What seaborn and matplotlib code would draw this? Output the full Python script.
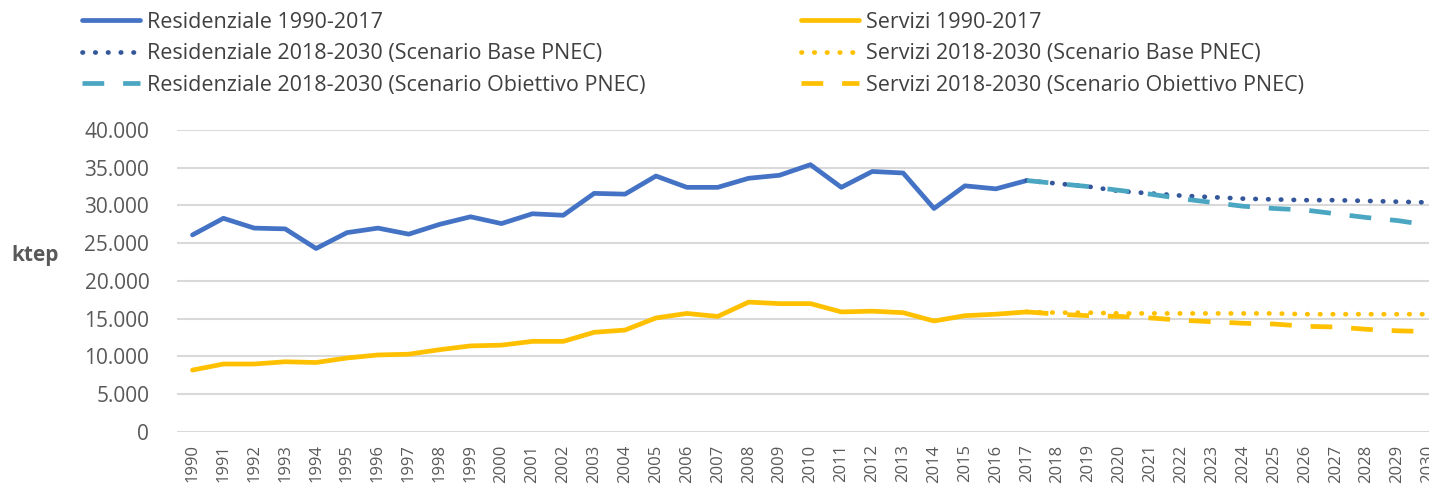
import matplotlib
matplotlib.use("Agg")
import matplotlib.pyplot as plt
import seaborn as sns
import pandas as pd
from matplotlib.lines import Line2D
from matplotlib.ticker import FuncFormatter

# =========================
# Dati (ktep)
# =========================
anni_storici = list(range(1990, 2018))
residenziale_storico = [26.1, 28.3, 27.0, 26.9, 24.3, 26.4, 27.0, 26.2, 27.5, 28.5,
                        27.6, 28.9, 28.7, 31.6, 31.5, 33.9, 32.4, 32.4, 33.6, 34.0,
                        35.4, 32.4, 34.5, 34.3, 29.6, 32.6, 32.2, 33.3]
servizi_storico = [8.2, 9.0, 9.0, 9.3, 9.2, 9.8, 10.2, 10.3, 10.9, 11.4,
                   11.5, 12.0, 12.0, 13.2, 13.5, 15.1, 15.7, 15.3, 17.2, 17.0,
                   17.0, 15.9, 16.0, 15.8, 14.7, 15.4, 15.6, 15.9]

anni_scenario = list(range(2017, 2031))
residenziale_base = [33.3, 32.9, 32.5, 31.9, 31.6, 31.3, 31.1, 30.9, 30.8, 30.7,
                     30.7, 30.6, 30.5, 30.4]
residenziale_obiettivo = [33.3, 32.9, 32.5, 32.0, 31.5, 30.9, 30.4, 29.9, 29.6, 29.4,
                          28.9, 28.4, 28.0, 27.4]
servizi_base = [15.9, 15.8, 15.8, 15.7, 15.7, 15.7, 15.7, 15.7, 15.7, 15.6,
                15.6, 15.6, 15.6, 15.6]
servizi_obiettivo = [15.9, 15.6, 15.4, 15.3, 15.1, 14.8, 14.6, 14.4, 14.3, 14.0,
                     13.9, 13.6, 13.4, 13.3]

etichette = [
    "Residenziale 1990-2017",
    "Residenziale 2018-2030 (Scenario Base PNEC)",
    "Residenziale 2018-2030 (Scenario Obiettivo PNEC)",
    "Servizi 1990-2017",
    "Servizi 2018-2030 (Scenario Base PNEC)",
    "Servizi 2018-2030 (Scenario Obiettivo PNEC)",
]

# =========================
# Stili
# =========================
BLU = "#4472C4"
BLU_SCURO = "#34569A"
AZZURRO = "#4BA6C2"
ORO = "#FFC000"
GRIGIO = "#595959"

PUNTINI = (0, (0.1, 2.6))
TRATTI = (0, (4.6, 4.0))
LW = 3.4

sns.set_theme(style="white")
plt.rcParams["font.family"] = ["Open Sans", "DejaVu Sans"]

fig = plt.figure(figsize=(14.29, 4.88), dpi=100)
ax = fig.add_axes([0.1239, 0.1148, 0.8761, 0.6189])

serie = [
    (anni_storici, residenziale_storico, BLU, "-"),
    (anni_scenario, residenziale_base, BLU_SCURO, PUNTINI),
    (anni_scenario, residenziale_obiettivo, AZZURRO, TRATTI),
    (anni_storici, servizi_storico, ORO, "-"),
    (anni_scenario, servizi_base, ORO, PUNTINI),
    (anni_scenario, servizi_obiettivo, ORO, TRATTI),
]

handles = []
for (x, y, col, ls), lab in zip(serie, etichette):
    df = pd.DataFrame({"anno": x, "ktep": [v * 1000 for v in y]})
    cap = "round" if ls == PUNTINI else "butt"
    sns.lineplot(data=df, x="anno", y="ktep", ax=ax, color=col, linestyle=ls,
                 linewidth=LW, dash_capstyle=cap, solid_capstyle="round",
                 legend=False, zorder=3)
    handles.append(Line2D([], [], color=col, linestyle=ls, linewidth=LW,
                          dash_capstyle=cap, solid_capstyle="round"))

# =========================
# Assi
# =========================
ax.set_xlim(1989.5, 2030.02)
ax.set_ylim(0, 40000)
ax.set_yticks(range(0, 40001, 5000))
ax.yaxis.set_major_formatter(FuncFormatter(lambda v, p: f"{int(v):,}".replace(",", ".")))
ax.set_xticks(range(1990, 2031))
ax.set_xticklabels([str(a) for a in range(1990, 2031)], rotation=90)
ax.tick_params(axis="y", labelsize=15, labelcolor=GRIGIO, length=0, pad=20)
ax.tick_params(axis="x", labelsize=12, labelcolor=GRIGIO, length=0, pad=9)
ax.set_xlabel("")
ax.set_ylabel("")
ax.grid(axis="y", color="#D9D9D9", linewidth=1.5, zorder=0)
ax.set_axisbelow(True)
for s in ax.spines.values():
    s.set_visible(False)
ax.patch.set_alpha(0)

fig.text(35 / 1429, 1 - 256 / 488, "ktep", fontsize=15, fontweight="bold",
         color=GRIGIO, ha="center", va="center")

# =========================
# Legenda (due colonne)
# =========================
for i, x0 in enumerate([78 / 1429, 797 / 1429]):
    leg = fig.legend(handles[3 * i:3 * i + 3], etichette[3 * i:3 * i + 3],
                     loc="upper left", bbox_to_anchor=(x0, 0.985), frameon=False,
                     fontsize=15.5, handlelength=2.7, handletextpad=0.3,
                     labelspacing=0.49, borderaxespad=0, borderpad=0.2)
    for t in leg.get_texts():
        t.set_color("#404040")

fig.savefig("out.png", dpi=100)
